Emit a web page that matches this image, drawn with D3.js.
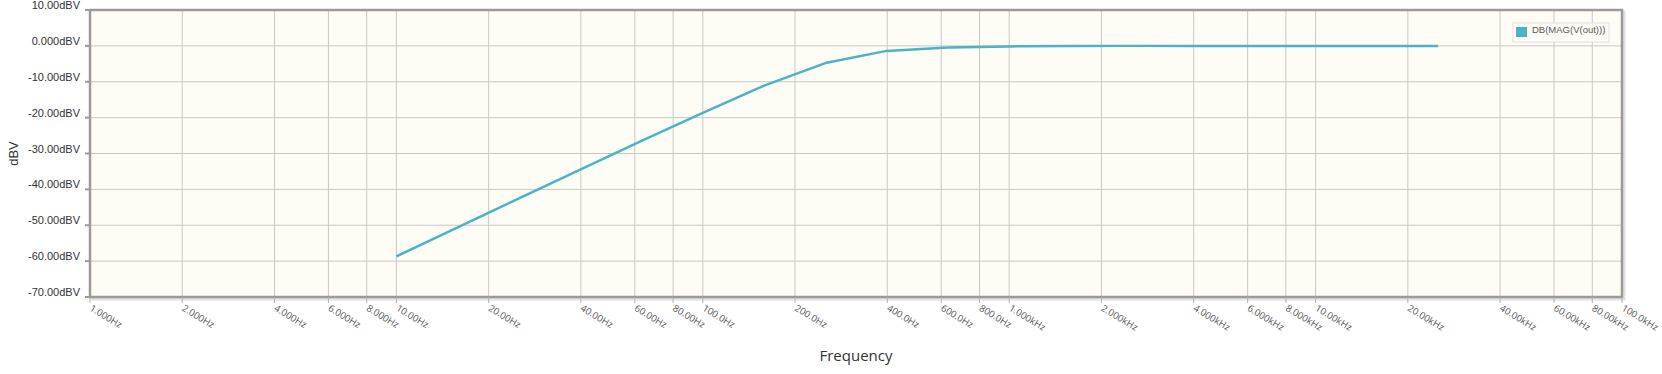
<!DOCTYPE html>
<html lang="en">
<head>
    <meta charset="UTF-8">
    <title>DB(MAG(V(out)))</title>
    <script src="https://d3js.org/d3.v7.min.js"></script>
    <style>
        body {
            margin: 0;
            padding: 0;
            overflow: hidden;
            background: #ffffff;
        }
        .ylab {
            font-family: "Liberation Sans", Arial, sans-serif;
            font-size: 11px;
            fill: #333;
        }
        .xlab {
            font-family: "Open Sans", sans-serif;
            font-size: 9.5px;
            fill: #555;
        }
    </style>
</head>
<body>
    <svg id="chart"></svg>

    <script>
        // Data (frequency in Hz, magnitude in dBV)
        const freqs = [10, 15.85, 25.12, 39.81, 63.1, 100, 158.5, 251.2, 398.1, 631, 1000,
                       1585, 2512, 3981, 6310, 10000, 15850, 25120];
        const dbv = [-58.7, -50.6, -42.5, -34.5, -26.5, -18.7, -11.1, -4.8, -1.4, -0.45, -0.15,
                     -0.05, 0, 0, 0, 0, 0, 0];
        const seriesName = "DB(MAG(V(out)))";

        const xTicks = [1, 2, 4, 6, 8, 10, 20, 40, 60, 80, 100, 200, 400, 600, 800,
                        1000, 2000, 4000, 6000, 8000, 10000, 20000, 40000, 60000, 80000, 100000];
        const xTickLabels = ["1.000Hz", "2.000Hz", "4.000Hz", "6.000Hz", "8.000Hz",
                             "10.00Hz", "20.00Hz", "40.00Hz", "60.00Hz", "80.00Hz",
                             "100.0Hz", "200.0Hz", "400.0Hz", "600.0Hz", "800.0Hz",
                             "1.000kHz", "2.000kHz", "4.000kHz", "6.000kHz", "8.000kHz",
                             "10.00kHz", "20.00kHz", "40.00kHz", "60.00kHz", "80.00kHz", "100.0kHz"];
        const yTicks = [10, 0, -10, -20, -30, -40, -50, -60, -70];
        const yTickLabels = ["10.00dBV", "0.000dBV", "-10.00dBV", "-20.00dBV", "-30.00dBV",
                             "-40.00dBV", "-50.00dBV", "-60.00dBV", "-70.00dBV"];

        const width = 1662, height = 374;
        const margin = { top: 10, right: 40, bottom: 77, left: 90 };
        const innerW = width - margin.left - margin.right;
        const innerH = height - margin.top - margin.bottom;

        const svg = d3.select("#chart")
            .attr("width", width)
            .attr("height", height);

        const x = d3.scaleLog().domain([1, 100000]).range([margin.left, margin.left + innerW]);
        const y = d3.scaleLinear().domain([-70, 10]).range([margin.top + innerH, margin.top]);

        // shadow + plot background
        svg.append("rect")
            .attr("x", margin.left + 2).attr("y", margin.top + 2)
            .attr("width", innerW).attr("height", innerH)
            .attr("fill", "none")
            .attr("stroke", "#e2e2e2").attr("stroke-width", 3);
        svg.append("rect")
            .attr("x", margin.left).attr("y", margin.top)
            .attr("width", innerW).attr("height", innerH)
            .attr("fill", "#fffcf5");

        // grid
        svg.append("g")
            .selectAll("line")
            .data(xTicks.slice(1, -1))
            .enter().append("line")
            .attr("x1", d => x(d)).attr("x2", d => x(d))
            .attr("y1", margin.top).attr("y2", margin.top + innerH)
            .attr("stroke", "#c8c8c8").attr("stroke-width", 1);
        svg.append("g")
            .selectAll("line")
            .data(yTicks.slice(1, -1))
            .enter().append("line")
            .attr("x1", margin.left).attr("x2", margin.left + innerW)
            .attr("y1", d => y(d)).attr("y2", d => y(d))
            .attr("stroke", "#c8c8c8").attr("stroke-width", 1);

        // frame
        svg.append("rect")
            .attr("x", margin.left).attr("y", margin.top)
            .attr("width", innerW).attr("height", innerH)
            .attr("fill", "none")
            .attr("stroke", "#9a9a9a").attr("stroke-width", 2.5);

        // y axis ticks and labels
        const yAxis = svg.append("g");
        yAxis.selectAll("line")
            .data(yTicks)
            .enter().append("line")
            .attr("x1", margin.left - 5).attr("x2", margin.left)
            .attr("y1", d => y(d)).attr("y2", d => y(d))
            .attr("stroke", "#9a9a9a").attr("stroke-width", 2);
        yAxis.selectAll("text")
            .data(yTicks)
            .enter().append("text")
            .attr("class", "ylab")
            .attr("x", margin.left - 10)
            .attr("y", d => y(d) - 1)
            .attr("text-anchor", "end")
            .text((d, i) => yTickLabels[i]);

        // x axis ticks and labels
        const xAxis = svg.append("g");
        xAxis.selectAll("line")
            .data(xTicks)
            .enter().append("line")
            .attr("x1", d => x(d)).attr("x2", d => x(d))
            .attr("y1", margin.top + innerH).attr("y2", margin.top + innerH + 6)
            .attr("stroke", "#b0b0b0").attr("stroke-width", 1);
        xAxis.selectAll("text")
            .data(xTicks)
            .enter().append("text")
            .attr("class", "xlab")
            .attr("transform", d => `translate(${x(d) - 1},${margin.top + innerH + 13}) rotate(31)`)
            .attr("text-anchor", "start")
            .text((d, i) => xTickLabels[i]);

        // axis titles
        svg.append("text")
            .attr("x", margin.left + innerW / 2)
            .attr("y", 361)
            .attr("text-anchor", "middle")
            .attr("font-family", "'Open Sans', sans-serif")
            .attr("font-size", 15)
            .attr("fill", "#333")
            .text("Frequency");
        svg.append("text")
            .attr("transform", `translate(18,${margin.top + innerH / 2}) rotate(-90)`)
            .attr("text-anchor", "middle")
            .attr("font-family", "'Liberation Sans', Arial, sans-serif")
            .attr("font-size", 13)
            .attr("fill", "#333")
            .text("dBV");

        // series
        const pts = freqs.map((f, i) => [f, dbv[i]]);
        const line = d3.line()
            .x(d => x(d[0]))
            .y(d => y(d[1]));
        svg.append("path")
            .datum(pts)
            .attr("d", line)
            .attr("fill", "none")
            .attr("stroke", "#4ab3c6")
            .attr("stroke-width", 2.5)
            .attr("stroke-linejoin", "round");

        // legend
        const lg = svg.append("g").attr("transform", "translate(1513,23)");
        lg.append("rect")
            .attr("width", 96).attr("height", 19)
            .attr("fill", "#fffcf5")
            .attr("stroke", "#e0e0e0").attr("stroke-width", 1);
        lg.append("rect")
            .attr("x", 3).attr("y", 4)
            .attr("width", 11).attr("height", 10)
            .attr("fill", "#4ab3c6");
        lg.append("text")
            .attr("x", 19).attr("y", 10)
            .attr("font-family", "'Liberation Sans', Arial, sans-serif")
            .attr("font-size", 9.5)
            .attr("fill", "#555")
            .text(seriesName);
    </script>
</body>
</html>
